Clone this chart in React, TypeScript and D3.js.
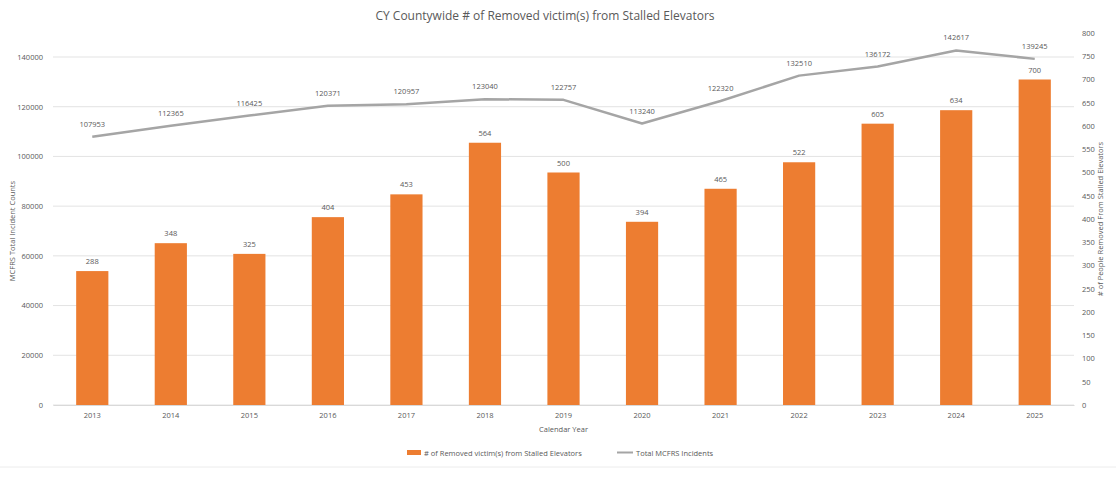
import * as d3 from "d3";
import { useEffect, useRef } from "react";

const width = 1116,
  height = 477,
  marginTop = 33,
  marginRight = 42,
  marginBottom = 72,
  marginLeft = 53;

const years = ["2013", "2014", "2015", "2016", "2017", "2018", "2019", "2020", "2021", "2022", "2023", "2024", "2025"];
const removedVictims = [288, 348, 325, 404, 453, 564, 500, 394, 465, 522, 605, 634, 700];
const totalIncidents = [107953, 112365, 116425, 120371, 120957, 123040, 122757, 113240, 122320, 132510, 136172, 142617, 139245];
const leftTicks = [0, 20000, 40000, 60000, 80000, 100000, 120000, 140000];
const rightTicks = [0, 50, 100, 150, 200, 250, 300, 350, 400, 450, 500, 550, 600, 650, 700, 750, 800];

const font = "'Open Sans', 'Noto Sans', sans-serif";
const orange = "#ED7D31";
const gray = "#A5A5A5";
const textGray = "#595959";

export default function App() {
  const ref = useRef<SVGSVGElement | null>(null);

  useEffect(() => {
    if (!ref.current) return;
    const svg = d3.select(ref.current);
    svg.selectAll("*").remove();

    const x = d3.scaleBand(years, [marginLeft, width - marginRight]).paddingInner(0.59).paddingOuter(0.295);
    // left axis: incidents (line)
    const yL = d3.scaleLinear([0, 140000], [height - marginBottom, 57]);
    // right axis: victims (bars)
    const yR = d3.scaleLinear([0, 800], [height - marginBottom, marginTop]);

    // grid lines follow the left axis
    svg
      .append("g")
      .selectAll("line")
      .data(leftTicks)
      .join("line")
      .attr("x1", marginLeft)
      .attr("x2", width - marginRight)
      .attr("y1", (d) => yL(d))
      .attr("y2", (d) => yL(d))
      .attr("stroke", "#e3e3e3")
      .attr("stroke-width", 1);

    // left axis labels
    svg
      .append("g")
      .attr("transform", `translate(${marginLeft - 4},0)`)
      .call(d3.axisLeft(yL).tickValues(leftTicks).tickSize(0).tickPadding(6).tickFormat((d) => String(d)))
      .call((g) => g.select(".domain").remove())
      .call((g) => g.selectAll("text").attr("fill", textGray).attr("font-size", 7.5).attr("font-family", font));

    // right axis labels
    svg
      .append("g")
      .attr("transform", `translate(${width - marginRight + 4},0)`)
      .call(d3.axisRight(yR).tickValues(rightTicks).tickSize(0).tickPadding(4).tickFormat((d) => String(d)))
      .call((g) => g.select(".domain").remove())
      .call((g) => g.selectAll("text").attr("fill", textGray).attr("font-size", 7.5).attr("font-family", font));

    // x axis
    svg
      .append("g")
      .attr("transform", `translate(0,${height - marginBottom})`)
      .call(d3.axisBottom(x).tickSize(0).tickPadding(8))
      .call((g) => g.select(".domain").attr("stroke", "#d9d9d9"))
      .call((g) => g.selectAll("text").attr("fill", textGray).attr("font-size", 7.5).attr("font-family", font));

    // bars
    svg
      .append("g")
      .selectAll("rect")
      .data(removedVictims)
      .join("rect")
      .attr("x", (_, i) => x(years[i])!)
      .attr("width", x.bandwidth())
      .attr("y", (d) => yR(d))
      .attr("height", (d) => yR(0) - yR(d))
      .attr("fill", orange);

    svg
      .append("g")
      .selectAll("text")
      .data(removedVictims)
      .join("text")
      .attr("x", (_, i) => x(years[i])! + x.bandwidth() / 2)
      .attr("y", (d) => yR(d) - 7)
      .attr("text-anchor", "middle")
      .attr("fill", textGray)
      .attr("font-size", 7.5)
      .attr("font-family", font)
      .text((d) => d);

    // line
    const line = d3
      .line<number>()
      .x((_, i) => x(years[i])! + x.bandwidth() / 2)
      .y((d) => yL(d));
    svg
      .append("path")
      .attr("fill", "none")
      .attr("stroke", gray)
      .attr("stroke-width", 2.5)
      .attr("stroke-linejoin", "round")
      .attr("d", line(totalIncidents));

    svg
      .append("g")
      .selectAll("text")
      .data(totalIncidents)
      .join("text")
      .attr("x", (_, i) => x(years[i])! + x.bandwidth() / 2)
      .attr("y", (d) => yL(d) - 10)
      .attr("text-anchor", "middle")
      .attr("fill", textGray)
      .attr("font-size", 7.5)
      .attr("font-family", font)
      .text((d) => d);

    // title
    svg
      .append("text")
      .attr("x", 545)
      .attr("y", 20)
      .attr("text-anchor", "middle")
      .attr("fill", textGray)
      .attr("font-size", 12)
      .attr("font-family", font)
      .text("CY Countywide # of Removed victim(s) from Stalled Elevators");

    // axis titles
    svg
      .append("text")
      .attr("transform", `translate(15,${(yL(0) + yL(140000)) / 2}) rotate(-90)`)
      .attr("text-anchor", "middle")
      .attr("fill", textGray)
      .attr("font-size", 7.5)
      .attr("font-family", font)
      .text("MCFRS Total Incident Counts");

    svg
      .append("text")
      .attr("transform", `translate(1103,${(yR(0) + yR(800)) / 2}) rotate(-90)`)
      .attr("text-anchor", "middle")
      .attr("fill", textGray)
      .attr("font-size", 7.5)
      .attr("font-family", font)
      .text("# of People Removed From Stalled Elevators");

    svg
      .append("text")
      .attr("x", (marginLeft + width - marginRight) / 2)
      .attr("y", 432)
      .attr("text-anchor", "middle")
      .attr("fill", textGray)
      .attr("font-size", 7.5)
      .attr("font-family", font)
      .text("Calendar Year");

    // legend
    const legend = svg.append("g").attr("font-family", font).attr("font-size", 7.5).attr("fill", textGray);
    legend.append("rect").attr("x", 407).attr("y", 450).attr("width", 14).attr("height", 5).attr("fill", orange);
    legend.append("text").attr("x", 424).attr("y", 455.5).text("# of Removed victim(s) from Stalled Elevators");
    legend
      .append("line")
      .attr("x1", 617)
      .attr("x2", 633)
      .attr("y1", 452.5)
      .attr("y2", 452.5)
      .attr("stroke", gray)
      .attr("stroke-width", 2);
    legend.append("text").attr("x", 636).attr("y", 455.5).text("Total MCFRS Incidents");

    // faint chart border at bottom
    svg
      .append("line")
      .attr("x1", 0)
      .attr("x2", width)
      .attr("y1", 467)
      .attr("y2", 467)
      .attr("stroke", "#ececec");
  }, []);

  return (
    <svg
      ref={ref}
      width={width}
      height={height}
      viewBox={`0 0 ${width} ${height}`}
      style={{ position: "absolute", left: 0, top: 0, background: "#fff" }}
    />
  );
}
